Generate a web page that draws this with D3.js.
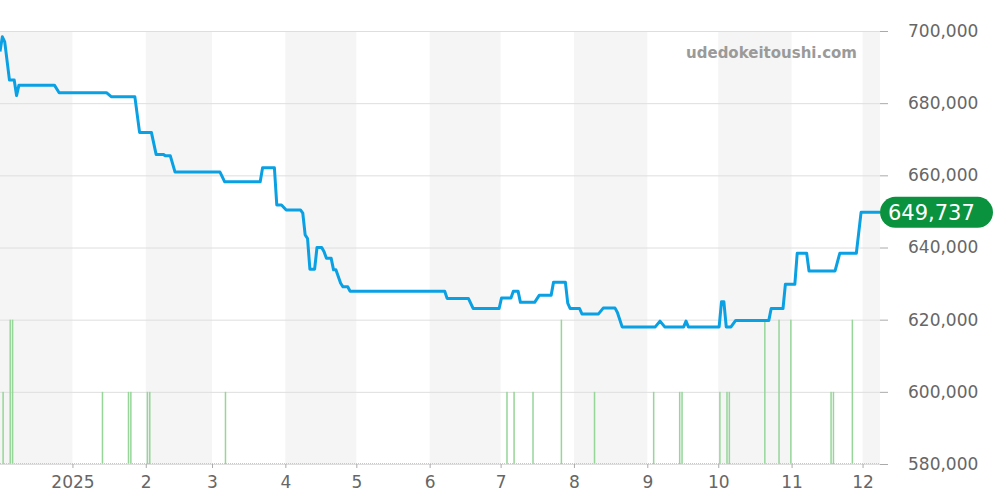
<!DOCTYPE html>
<html>
<head>
<meta charset="utf-8">
<script src="https://d3js.org/d3.v7.min.js"></script>
<style>
    body { margin: 0; background: #fff; }
    svg text { font-family: "DejaVu Sans", sans-serif; }
    .grid line { stroke: #dedede; stroke-width: 1; }
    .axis text { fill: #666; font-size: 17px; }
    .axis line { stroke: #aaa; }
</style>
</head>
<body>
<svg class="target" width="1000" height="500"></svg>
<script>

    // price history (yen)
    const priceDates = [
        "2024-12-01","2024-12-02","2024-12-03","2024-12-05","2024-12-07","2024-12-08","2024-12-09",
        "2024-12-24","2024-12-26","2025-01-15","2025-01-17","2025-01-27","2025-01-29","2025-02-03",
        "2025-02-05","2025-02-08","2025-02-09","2025-02-11","2025-02-13","2025-03-04","2025-03-06",
        "2025-03-21","2025-03-22","2025-03-27","2025-03-28","2025-03-30","2025-04-01","2025-04-07",
        "2025-04-08","2025-04-09","2025-04-10","2025-04-11","2025-04-13","2025-04-14","2025-04-16",
        "2025-04-17","2025-04-18","2025-04-20","2025-04-21","2025-04-22","2025-04-24","2025-04-25",
        "2025-04-27","2025-04-28","2025-06-07","2025-06-08","2025-06-17","2025-06-19","2025-06-30",
        "2025-07-01","2025-07-05","2025-07-06","2025-07-08","2025-07-09","2025-07-15","2025-07-17",
        "2025-07-22","2025-07-23","2025-07-28","2025-07-29","2025-07-30","2025-08-03","2025-08-04",
        "2025-08-11","2025-08-13","2025-08-18","2025-08-19","2025-08-21","2025-09-04","2025-09-06",
        "2025-09-08","2025-09-16","2025-09-17","2025-09-18","2025-10-01","2025-10-02","2025-10-03",
        "2025-10-04","2025-10-06","2025-10-08","2025-10-22","2025-10-23","2025-10-28","2025-10-29",
        "2025-11-02","2025-11-03","2025-11-07","2025-11-08","2025-11-19","2025-11-21","2025-11-28",
        "2025-11-30","2025-12-08"
    ];
    const priceValues = [
        694300,698400,697000,686400,686400,682100,685000,
        685000,682900,682900,681800,681800,671900,671900,
        665800,665800,665400,665400,660900,660900,658200,
        658200,662100,662100,651800,651800,650400,650400,
        649500,643500,642500,634000,634000,640000,640000,
        638800,637000,637000,633800,633800,630100,629100,
        629100,627900,627900,625900,625900,623100,623100,
        626000,626000,627900,627900,624800,624800,626800,
        626800,630400,630400,624600,623100,623100,621600,
        621600,623200,623200,622000,618000,618000,619600,
        618000,618000,619600,618000,618000,625000,625000,
        618000,618000,619800,619800,623100,623100,629800,
        629800,638400,638400,633500,633500,638400,638400,
        649737,649737
    ];

    // number of sales per day
    const volumeDates = [
        "2024-12-02","2024-12-05","2024-12-06","2025-01-13","2025-01-24","2025-01-25","2025-02-01",
        "2025-02-02","2025-03-06","2025-07-03","2025-07-06","2025-07-14","2025-07-26","2025-08-09",
        "2025-09-03","2025-09-14","2025-09-15","2025-10-01","2025-10-04","2025-10-05","2025-10-20",
        "2025-10-26","2025-10-31","2025-11-17","2025-11-18","2025-11-26"
    ];
    const volumeValues = [1,2,2,1,1,1,1, 1,1,1,1,1,2,1, 1,1,1,1,1,1,2, 2,2,1,1,2];

    const yTicks = [580000, 600000, 620000, 640000, 660000, 680000, 700000];
    const xTickLabels = ["2025","2","3","4","5","6","7","8","9","10","11","12"];
    const lastPrice = 649737;

    let parse = d3.utcParse("%Y-%m-%d");
    let fmt = d3.format(",");
    // month boundaries are drawn at Japan midnight (UTC+9)
    let jst = d => new Date(d.getTime() - 9 * 3600e3);

    let svg = d3.select(".target");
    let plot = {left: 0, right: 880, top: 31, bottom: 464};

    let x = d3.scaleUtc()
        .domain([Date.UTC(2024, 11, 1), Date.UTC(2025, 11, 8)])
        .range([plot.left, plot.right]);
    let y = d3.scaleLinear().domain([580000, 700000]).range([plot.bottom, plot.top]);
    let yVol = d3.scaleLinear().domain([0, 6]).range([plot.bottom, plot.top]);

    // alternating month bands
    let months = d3.utcMonth.range(new Date(Date.UTC(2024, 11, 1)), x.domain()[1]);
    svg.append("g").selectAll("rect")
        .data(months.filter((m, i) => i % 2 === 0))
        .enter().append("rect")
        .attr("x", d => Math.max(x(jst(d)), plot.left))
        .attr("y", plot.top)
        .attr("width", d => Math.min(x(jst(d3.utcMonth.offset(d, 1))), plot.right) - Math.max(x(jst(d)), plot.left))
        .attr("height", plot.bottom - plot.top)
        .attr("fill", "#f5f5f5");

    // grid
    svg.append("g").attr("class", "grid").selectAll("line")
        .data(yTicks)
        .enter().append("line")
        .attr("x1", plot.left).attr("x2", plot.right)
        .attr("y1", d => y(d) + 0.5).attr("y2", d => y(d) + 0.5);

    // volume bars
    svg.append("g").selectAll("rect")
        .data(volumeDates.map((d, i) => ({date: parse(d), v: volumeValues[i]})))
        .enter().append("rect")
        .attr("x", d => x(d.date))
        .attr("y", d => yVol(d.v))
        .attr("width", 1.5)
        .attr("height", d => yVol(0) - yVol(d.v))
        .attr("fill", "#96d699");

    svg.append("line")
        .attr("x1", plot.left).attr("x2", plot.right)
        .attr("y1", plot.bottom - 0.5).attr("y2", plot.bottom - 0.5)
        .attr("stroke", "#a8dcaa")
        .attr("stroke-dasharray", "1,1");

    // x axis
    let xAxis = svg.append("g")
        .attr("class", "axis")
        .attr("transform", "translate(0," + plot.bottom + ")")
        .call(d3.axisBottom(x)
            .tickValues(months.slice(1).map(jst))
            .tickSize(4)
            .tickPadding(8)
            .tickFormat((d, i) => xTickLabels[i]));
    xAxis.select(".domain").remove();

    // y axis on the right
    let yAxis = svg.append("g")
        .attr("class", "axis")
        .attr("transform", "translate(" + plot.right + ",0)")
        .call(d3.axisRight(y)
            .tickValues(yTicks)
            .tickSize(8)
            .tickPadding(20)
            .tickFormat(fmt));
    yAxis.select(".domain").remove();
    yAxis.selectAll("line").attr("stroke", "#999");

    // price line
    let line = d3.line()
        .x(d => x(d.date))
        .y(d => y(d.v));
    svg.append("path")
        .datum(priceDates.map((d, i) => ({date: parse(d), v: priceValues[i]})))
        .attr("d", line)
        .attr("fill", "none")
        .attr("stroke", "#0aa0e4")
        .attr("stroke-width", 3)
        .attr("stroke-linejoin", "round");

    // last price badge
    let badge = svg.append("g").attr("transform", "translate(" + plot.right + "," + y(lastPrice) + ")");
    badge.append("rect")
        .attr("x", 0).attr("y", -15.5)
        .attr("width", 113).attr("height", 31)
        .attr("rx", 15.5)
        .attr("fill", "#0a923e");
    badge.append("text")
        .attr("x", 8).attr("dy", "0.36em")
        .attr("fill", "#fff")
        .style("font-size", "21px")
        .text(fmt(lastPrice));

    // watermark
    svg.append("text")
        .attr("x", 857).attr("y", 58)
        .attr("text-anchor", "end")
        .attr("fill", "#9a9a9a")
        .style("font-size", "15px")
        .style("font-weight", "bold")
        .text("udedokeitoushi.com");

</script>
</body>
</html>
